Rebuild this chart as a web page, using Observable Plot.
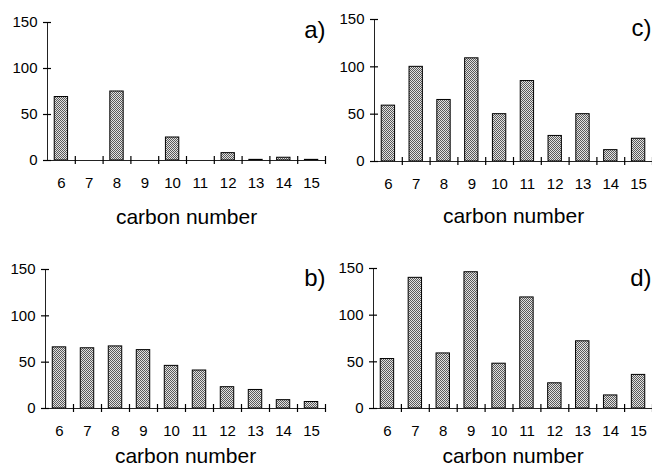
<!DOCTYPE html>
<html><head><meta charset="utf-8">
<script src="https://cdn.jsdelivr.net/npm/d3@7"></script>
<script src="https://cdn.jsdelivr.net/npm/@observablehq/plot@0.6"></script>
<style>
body{margin:0;background:#fff;}
#wrap{position:relative;width:652px;height:472px;overflow:hidden;font-family:"Liberation Sans",Arial,sans-serif;}
#wrap svg{position:absolute;overflow:visible;}
</style></head><body><div id="wrap"></div>
<script>
// ---- data ----
const carbon = [6, 7, 8, 9, 10, 11, 12, 13, 14, 15];
const valuesA = [69, 0, 75, 0, 25, 0, 8, 0.7, 3, 0.7];
const valuesB = [66, 65, 67, 63, 46, 41, 23, 20, 9, 7];
const valuesC = [59, 100, 65, 109, 50, 85, 27, 50, 12, 24];
const valuesD = [53, 140, 59, 146, 48, 119, 27, 72, 14, 36];
const yTicks = [0, 50, 100, 150];
const bandEdges = [6.5, 7.5, 8.5, 9.5, 10.5, 11.5, 12.5, 13.5, 14.5, 15.5];
const xLabel = "carbon number";
const panelLabels = ["a)", "b)", "c)", "d)"];

// ---- layout ----
const panels = [
  {values: valuesA, label: panelLabels[0], left: 0,   top: 0,   width: 326, height: 236, mL: 47, mR: 1, mT: 22, mB: 76, xlDy: 57, plDx: 0,  plDy: -2},
  {values: valuesC, label: panelLabels[2], left: 326, top: 0,   width: 326, height: 236, mL: 48, mR: 0, mT: 19, mB: 75, xlDy: 55, plDx: -1, plDy: -1},
  {values: valuesB, label: panelLabels[1], left: 0,   top: 230, width: 326, height: 242, mL: 45, mR: 1, mT: 39, mB: 64, xlDy: 48, plDx: 0,  plDy: -1},
  {values: valuesD, label: panelLabels[3], left: 326, top: 230, width: 326, height: 242, mL: 47, mR: 0, mT: 38, mB: 64, xlDy: 48, plDx: -1, plDy: 0}
];

const wrap = document.getElementById("wrap");
const halfBar = 0.24;
const tickHalf = 4;

panels.forEach((p, i) => {
  const data = carbon.map((c, j) => ({c, v: p.values[j]}));
  const pid = "pat" + i;
  const frameH = p.height - p.mT - p.mB;
  const frameW = p.width - p.mL - p.mR;
  const svg = Plot.plot({
    width: p.width,
    height: p.height,
    marginLeft: p.mL,
    marginRight: p.mR,
    marginTop: p.mT,
    marginBottom: p.mB,
    style: {fontFamily: "Liberation Sans, Arial, sans-serif", fontSize: "15px", color: "#000", background: "transparent", overflow: "visible"},
    x: {domain: [5.5, 15.5]},
    y: {domain: [0, 150]},
    marks: [
      Plot.rectY(data, {x1: d => d.c - halfBar, x2: d => d.c + halfBar, y1: 0, y2: "v", fill: `url(#${pid})`, stroke: "#000", strokeWidth: 1}),
      Plot.ruleY([0], {stroke: "#222", strokeWidth: 1}),
      Plot.ruleX([5.5], {y1: 0, y2: 150, stroke: "#222", strokeWidth: 1}),
      Plot.tickX(bandEdges, {x: d => d, insetTop: frameH - tickHalf, insetBottom: -tickHalf, stroke: "#000", strokeWidth: 1.2}),
      Plot.tickY(yTicks, {y: d => d, insetLeft: -tickHalf, insetRight: frameW - tickHalf, stroke: "#000", strokeWidth: 1.2}),
      Plot.axisX({ticks: carbon, tickSize: 0, tickPadding: 17, tickFormat: d => String(d), fontSize: 15, label: null}),
      Plot.axisY({ticks: yTicks, tickSize: 0, tickPadding: 10, tickFormat: d => String(d), fontSize: 15, label: null}),
      Plot.text([xLabel], {text: d => d, frameAnchor: "bottom", dy: p.xlDy, lineAnchor: "middle", fontSize: 21, fill: "#000"}),
      Plot.text([p.label], {text: d => d, frameAnchor: "top-right", textAnchor: "end", lineAnchor: "top", dx: p.plDx, dy: p.plDy, fontSize: 24, fill: "#000"})
    ]
  });
  svg.insertAdjacentHTML("afterbegin",
    `<defs><pattern id="${pid}" width="2" height="2" patternUnits="userSpaceOnUse">` +
    `<rect width="2" height="2" fill="#e2e2e2"/><rect width="1" height="1" fill="#5a5a5a"/><rect x="1" y="1" width="1" height="1" fill="#5a5a5a"/></pattern></defs>`);
  svg.style.left = p.left + "px";
  svg.style.top = p.top + "px";
  wrap.appendChild(svg);
});
</script>
</body></html>
